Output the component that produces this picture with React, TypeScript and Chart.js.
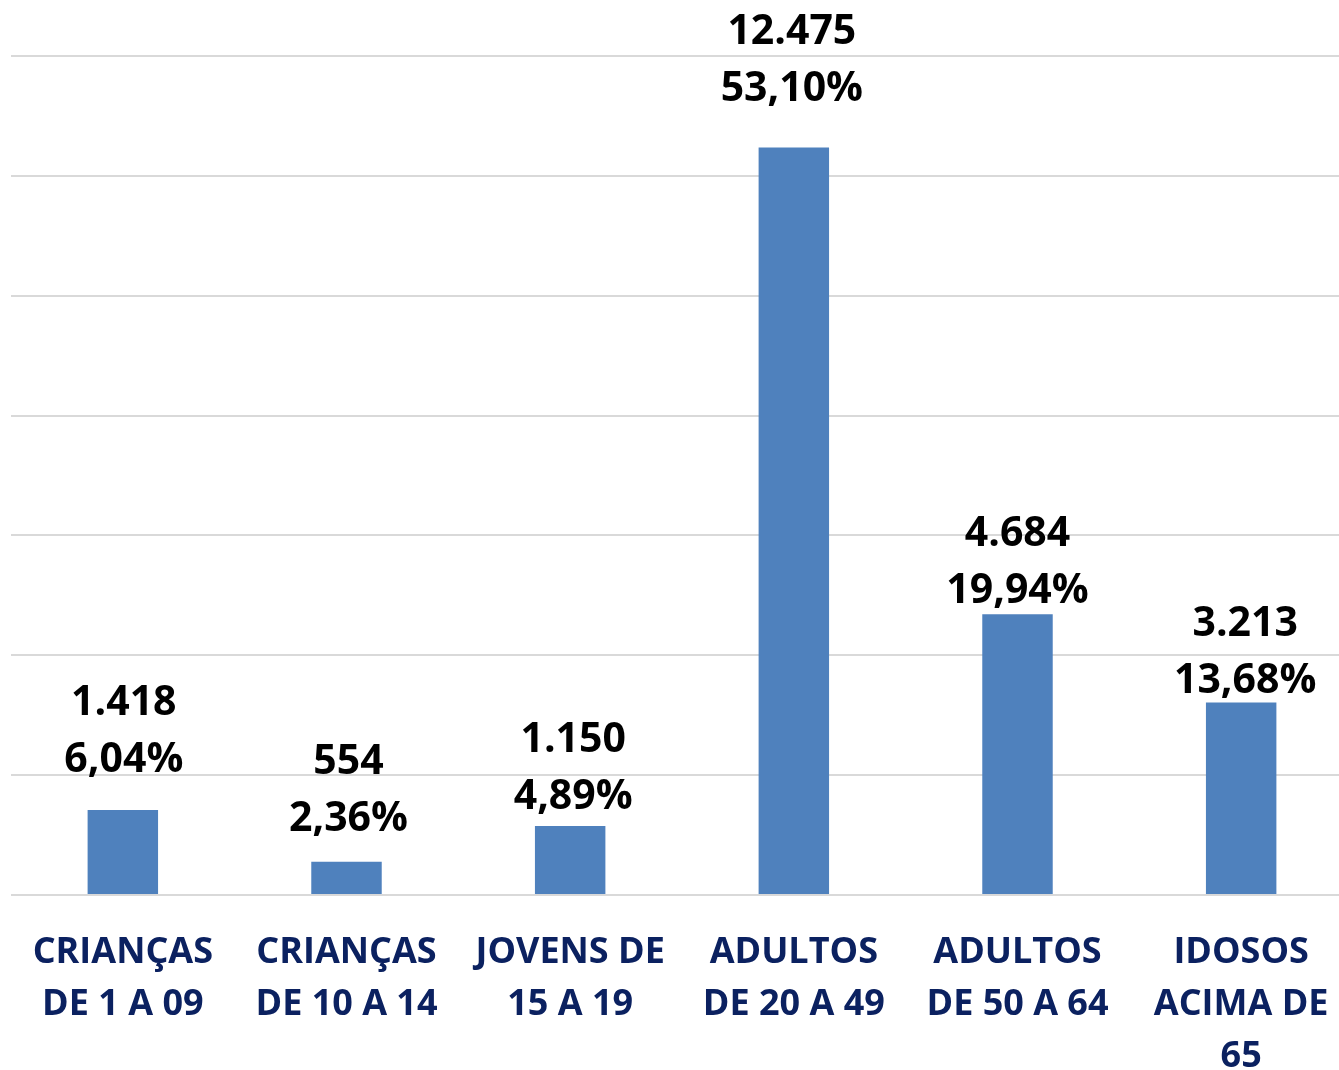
import React, { useEffect, useRef } from "react";
import { Chart, registerables } from "chart.js";

Chart.register(...registerables);

const categories: string[][] = [
  ["CRIANÇAS", "DE 1 A 09"],
  ["CRIANÇAS", "DE 10 A 14"],
  ["JOVENS DE", "15 A 19"],
  ["ADULTOS", "DE 20 A 49"],
  ["ADULTOS", "DE 50 A 64"],
  ["IDOSOS", "ACIMA DE", "65"],
];
const counts: number[] = [1418, 554, 1150, 12475, 4684, 3213];
const countLabels: string[] = ["1.418", "554", "1.150", "12.475", "4.684", "3.213"];
const percentLabels: string[] = ["6,04%", "2,36%", "4,89%", "53,10%", "19,94%", "13,68%"];

// label placement tweaks (layout only)
const LABEL_GAP = [38, 31, 17, 46, 11, 9];
const LABEL_DX = [1, 2, 3, -2, 0, 4];
const LINE_SPACING = 57;
const FONT = "'Open Sans', sans-serif";

const labelPlugin = {
  id: "barLabels",
  afterDatasetsDraw(chart: any) {
    const ctx = chart.ctx;
    const meta = chart.getDatasetMeta(0);
    ctx.save();
    ctx.font = `bold 41px ${FONT}`;
    ctx.fillStyle = "#000000";
    ctx.textAlign = "center";
    ctx.textBaseline = "alphabetic";
    meta.data.forEach((bar: any, i: number) => {
      const x = bar.x + LABEL_DX[i];
      const y2 = bar.y - LABEL_GAP[i];
      ctx.fillText(percentLabels[i], x, y2);
      ctx.fillText(countLabels[i], x, y2 - LINE_SPACING);
    });
    ctx.restore();
  },
};

export default function App() {
  const ref = useRef<HTMLCanvasElement | null>(null);
  useEffect(() => {
    document.body.style.margin = "0";
    const chart = new Chart(ref.current as HTMLCanvasElement, {
      type: "bar",
      data: {
        labels: categories,
        datasets: [
          {
            data: counts,
            backgroundColor: "#4F81BD",
            categoryPercentage: 1,
            barPercentage: 0.315,
          },
        ],
      },
      options: {
        animation: false,
        responsive: false,
        maintainAspectRatio: false,
        layout: { padding: { top: 56, left: 11, right: 0, bottom: 0 } },
        plugins: { legend: { display: false }, tooltip: { enabled: false } },
        scales: {
          x: {
            grid: { display: false },
            border: { display: false },
            ticks: {
              color: "#0B2160",
              font: { family: FONT, weight: "bold", size: 36, lineHeight: 1.44 },
              padding: 24,
              maxRotation: 0,
              autoSkip: false,
            },
            afterFit: (s: any) => {
              s.height = 175;
            },
          },
          y: {
            min: 0,
            max: 14000,
            ticks: { display: false, stepSize: 2000 },
            border: { display: false },
            grid: { color: "#D9D9D9", lineWidth: 2, drawTicks: false },
            afterFit: (s: any) => {
              s.width = 0;
            },
          },
        },
      },
      plugins: [labelPlugin],
    });
    return () => chart.destroy();
  }, []);
  return (
    <div style={{ position: "absolute", left: 0, top: 0, width: 1339, height: 1070, overflow: "hidden", background: "#fff" }}>
      <canvas ref={ref} width={1353} height={1070} style={{ display: "block" }} />
    </div>
  );
}
